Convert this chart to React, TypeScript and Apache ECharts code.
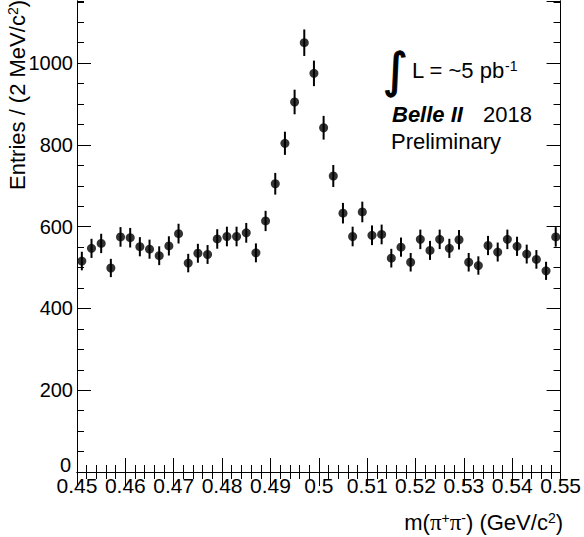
import React, { useEffect, useRef } from "react";
import * as echarts from "echarts";

const binLow = 0.45;
const binWidth = 0.002;
const counts = [
  516, 547, 559, 499, 575, 573, 551, 545, 529, 553,
  583, 511, 535, 532, 570, 576, 576, 585, 536, 614,
  705, 804, 905, 1050, 975, 842, 724, 633, 576, 636,
  579, 581, 523, 550, 513, 569, 542, 569, 547, 568,
  513, 505, 554, 538, 569, 552, 533, 520, 492, 575,
];
const xTickLabels = ["0.45", "0.46", "0.47", "0.48", "0.49", "0.5", "0.51", "0.52", "0.53", "0.54", "0.55"];
const yTickLabels = ["0", "200", "400", "600", "800", "1000"];

const FONT = "'Liberation Sans', Arial, Helvetica, sans-serif";

export default function App() {
  const ref = useRef<HTMLDivElement>(null);
  useEffect(() => {
    if (!ref.current) return;
    const chart = echarts.init(ref.current, undefined, { renderer: "svg" });
    const points = counts.map((c, i) => [
      +(binLow + binWidth * (i + 0.5)).toFixed(4),
      c,
      Math.sqrt(c),
    ]);
    const xMin = parseFloat(xTickLabels[0]);
    const xMax = parseFloat(xTickLabels[xTickLabels.length - 1]);
    const yMax = 1152;
    const axisLine = { show: true, lineStyle: { color: "#000", width: 1 } };
    const xCommon = {
      type: "value",
      min: xMin,
      max: xMax,
      interval: 0.01,
      axisLine,
      splitLine: { show: false },
      axisTick: { show: true, inside: true, length: 14, lineStyle: { color: "#000", width: 1 } },
      minorTick: { show: true, splitNumber: 5, length: 7, lineStyle: { color: "#000", width: 1 } },
      minorSplitLine: { show: false },
    };
    const yMajor = {
      type: "value",
      min: 0,
      max: yMax,
      interval: 200,
      axisLine,
      splitLine: { show: false },
      axisTick: { show: true, inside: true, length: 14, lineStyle: { color: "#000", width: 1 } },
    };
    const yMinor = {
      type: "value",
      min: 0,
      max: yMax,
      interval: 50,
      axisLine,
      splitLine: { show: false },
      axisLabel: { show: false },
      axisTick: { show: true, inside: true, length: 7, lineStyle: { color: "#000", width: 1 } },
    };
    const option: any = {
      animation: false,
      backgroundColor: "#fff",
      grid: { left: 77, right: 22, top: 1, bottom: 65, containLabel: false },
      xAxis: [
        {
          ...xCommon,
          position: "bottom",
          axisLabel: {
            show: true,
            color: "#000",
            fontSize: 21,
            fontFamily: FONT,
            margin: 3,
            formatter: (v: number) => {
              const s = parseFloat(v.toFixed(3)).toString();
              return xTickLabels.includes(s) ? s : "";
            },
          },
        },
        { ...xCommon, position: "top", axisLabel: { show: false } },
      ],
      yAxis: [
        {
          ...yMajor,
          position: "left",
          axisLabel: {
            show: true,
            color: "#000",
            fontSize: 20,
            fontFamily: FONT,
            margin: 4,
            showMaxLabel: false,
            formatter: (v: number) => {
              const s = Math.round(v).toString();
              if (!yTickLabels.includes(s)) return "";
              return s === "0" ? "{z|0}" : s;
            },
            rich: {
              z: { fontSize: 20, fontFamily: FONT, color: "#000", padding: [0, 2, 14, 0] },
            },
          },
        },
        { ...yMinor, position: "left" },
        { ...yMajor, position: "right", axisLabel: { show: false } },
        { ...yMinor, position: "right" },
      ],
      series: [
        {
          type: "custom",
          xAxisIndex: 0,
          yAxisIndex: 0,
          data: points,
          renderItem: (params: any, api: any) => {
            const x = api.value(0);
            const y = api.value(1);
            const e = api.value(2);
            const p1 = api.coord([x, y - e]);
            const p2 = api.coord([x, y + e]);
            return {
              type: "line",
              shape: { x1: p1[0], y1: p1[1], x2: p2[0], y2: p2[1] },
              style: { stroke: "#000", lineWidth: 2 },
            };
          },
          z: 2,
        },
        {
          type: "scatter",
          xAxisIndex: 0,
          yAxisIndex: 0,
          data: points.map((p) => [p[0], p[1]]),
          symbol: "circle",
          symbolSize: 9,
          itemStyle: { color: "#000" },
          z: 3,
        },
      ],
      graphic: [
        {
          type: "text",
          x: 383,
          y: 70,
          style: {
            text: "\u222B",
            fontSize: 48,
            fontFamily: "'DejaVu Sans', sans-serif",
            fill: "#000",
            stroke: "#000",
            lineWidth: 1,
            verticalAlign: "middle",
            align: "left",
          },
        },
        {
          type: "text",
          x: 412,
          y: 70,
          style: {
            text: "L = ~5 pb{sup|-1}",
            fontSize: 22,
            fontFamily: FONT,
            fill: "#000",
            verticalAlign: "middle",
            rich: {
              sup: { fontSize: 14, fontFamily: FONT, fill: "#000", verticalAlign: "top" },
            },
          },
        },
        {
          type: "text",
          x: 392,
          y: 114,
          style: {
            text: "Belle II",
            fontSize: 22,
            fontWeight: "bold",
            fontStyle: "italic",
            fontFamily: FONT,
            fill: "#000",
            verticalAlign: "middle",
          },
        },
        {
          type: "text",
          x: 483,
          y: 114,
          style: { text: "2018", fontSize: 22, fontFamily: FONT, fill: "#000", verticalAlign: "middle" },
        },
        {
          type: "text",
          x: 391,
          y: 141,
          style: { text: "Preliminary", fontSize: 22, fontFamily: FONT, fill: "#000", verticalAlign: "middle" },
        },
        {
          type: "text",
          x: 563,
          y: 522,
          style: {
            text: "m({pi|\u03C0}{sup|+}{pi|\u03C0}{sup|-}) (GeV/c{sup|2})",
            fontSize: 22,
            fontFamily: FONT,
            fill: "#000",
            align: "right",
            verticalAlign: "middle",
            rich: {
              pi: { fontSize: 23, fontFamily: "'Liberation Serif', serif", fill: "#000" },
              sup: { fontSize: 14, fontFamily: FONT, fill: "#000", verticalAlign: "top" },
            },
          },
        },
        {
          type: "text",
          x: 28,
          y: 0,
          rotation: Math.PI / 2,
          style: {
            text: "Entries / (2 MeV/c{sup|2})",
            fontSize: 22,
            fontFamily: FONT,
            fill: "#000",
            align: "right",
            verticalAlign: "bottom",
            rich: {
              sup: { fontSize: 14, fontFamily: FONT, fill: "#000", verticalAlign: "top" },
            },
          },
        },
      ],
    };
    chart.setOption(option);
    return () => chart.dispose();
  }, []);
  return (
    <div
      ref={ref}
      style={{ position: "fixed", left: 0, top: 0, width: 584, height: 537, background: "#fff" }}
    />
  );
}
